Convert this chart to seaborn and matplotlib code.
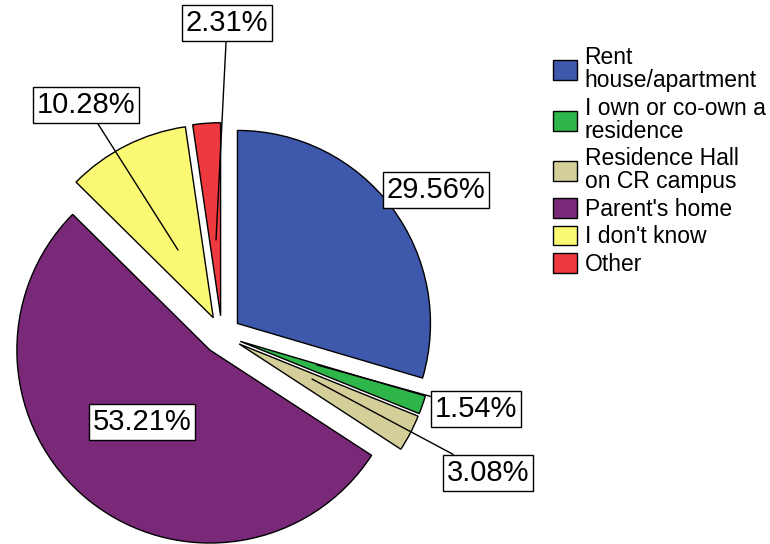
import matplotlib
matplotlib.use("Agg")
import matplotlib.pyplot as plt
import seaborn as sns
from matplotlib.patches import Patch

sns.set_theme(style="white")
plt.rcParams['font.family'] = ['Liberation Sans', 'DejaVu Sans']
plt.rcParams['text.color'] = 'black'

categories = ["Rent\nhouse/apartment", "I own or co-own a\nresidence",
              "Residence Hall\non CR campus", "Parent's home", "I don't know", "Other"]
values = [29.56, 1.54, 3.08, 53.21, 10.28, 2.31]
pct_labels = ["29.56%", "1.54%", "3.08%", "53.21%", "10.28%", "2.31%"]
colors = ["#3E58AB", "#2FB64A", "#D4CF99", "#7A2878", "#FBF874", "#EE3A3F"]

W, H = 770, 544
fig = plt.figure(figsize=(W / 100, H / 100), dpi=100)
ax = fig.add_axes([0, 0, 1, 1])

cx, cy, R = 222, 335, 193  # pixel center and radius

wedges, _ = ax.pie(values, colors=colors, startangle=90, counterclock=False,
                   explode=[0.1] * len(values), radius=1.0,
                   wedgeprops=dict(edgecolor='black', linewidth=1.0))
for w in wedges:
    w.set_clip_on(False)

ax.set_xlim(-cx / R, (W - cx) / R)
ax.set_ylim(-(H - cy) / R, cy / R)
ax.set_aspect('equal')
ax.axis('off')

def px(x, y):
    return ((x - cx) / R, (cy - y) / R)

# label positions (box centres) and leader-line anchors (None = no line)
label_pos = [px(436, 190), px(476, 409), px(488, 473), px(142, 422), px(86, 105), px(227, 23)]
anchor_pos = [None, px(317, 365), px(312, 379), None, px(178, 250), px(216, 240)]

bbox = dict(boxstyle='square,pad=0.14', facecolor='white', edgecolor='black', linewidth=1.0)
for lab, pos, anc in zip(pct_labels, label_pos, anchor_pos):
    if anc is None:
        ax.text(pos[0], pos[1], lab, ha='center', va='center', fontsize=21,
                color='black', bbox=bbox)
    else:
        ax.annotate(lab, xy=anc, xytext=pos, ha='center', va='center', fontsize=21,
                    color='black', bbox=bbox,
                    arrowprops=dict(arrowstyle='-', color='black', lw=1.0,
                                    shrinkA=0, shrinkB=0))

handles = [Patch(facecolor=c, edgecolor='black', linewidth=1.0) for c in colors]
leg = fig.legend(handles, categories, loc='upper left', bbox_to_anchor=(553 / W, 1 - 46 / H),
                 frameon=False, fontsize=16.5, handlelength=1.05, handleheight=0.95,
                 handletextpad=0.33, labelspacing=0.2, borderaxespad=0, borderpad=0)
for t in leg.get_texts():
    t.set_linespacing(1.0)
    t.set_color('black')

fig.savefig("out.png", dpi=100)
